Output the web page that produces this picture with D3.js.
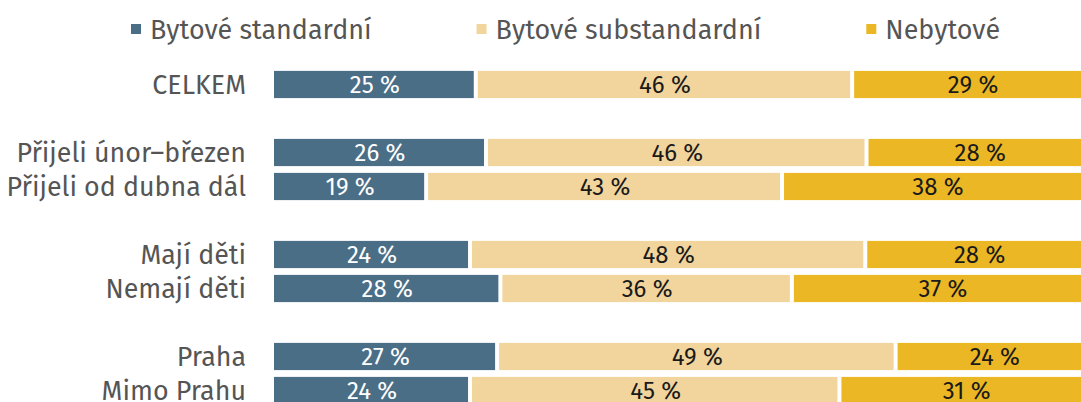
<!DOCTYPE html>
<html>
<head>
<meta charset="utf-8">
<script src="https://cdn.jsdelivr.net/npm/d3@7"></script>
<style>
  html, body { margin: 0; padding: 0; background: #fff; }
  svg { display: block; }
  text { font-family: "Fira Sans", "Open Sans", sans-serif; font-weight: 400; }
</style>
</head>
<body>
<svg id="chart" width="1081" height="402"></svg>
<script>
// ---- data ----
const categories = ["CELKEM", "Přijeli únor–březen", "Přijeli od dubna dál", "Mají děti", "Nemají děti", "Praha", "Mimo Prahu"];
const groupIndex = [0, 1, 1, 2, 2, 3, 3];
const seriesNames = ["Bytové standardní", "Bytové substandardní", "Nebytové"];
const standard = [24.85, 26.1, 18.8, 24.15, 27.85, 27.45, 24.15];
const substandard = [45.9, 46.4, 43.4, 48.2, 35.55, 48.6, 45.05];
const nonresidential = [29.25, 27.5, 37.8, 27.65, 36.6, 23.95, 30.8];
const colors = ["#4b6e87", "#f2d59d", "#ecb724"];
const labelColors = ["#ffffff", "#1a1a1a", "#1a1a1a"];

// ---- layout ----
const svg = d3.select("#chart");
const gap = 4;

const rows = categories.map((c, i) => ({
  name: c,
  slot: i + groupIndex[i],
  values: [standard[i], substandard[i], nonresidential[i]]
}));

const x = d3.scaleLinear().domain([0, 100]).range([272, 1092]);
const y = d3.scaleBand()
  .domain(d3.range(10))
  .range([67.5, 407.5])
  .paddingInner(0.2)
  .paddingOuter(0.1);

const stackData = rows.map(r => ({ name: r.name, slot: r.slot, s0: r.values[0], s1: r.values[1], s2: r.values[2] }));
const series = d3.stack().keys(["s0", "s1", "s2"])(stackData);

const g = svg.append("g");

series.forEach((s, si) => {
  const sg = g.append("g");
  sg.selectAll("rect").data(s).join("rect")
    .attr("x", d => x(d[0]) + gap / 2)
    .attr("y", d => y(d.data.slot))
    .attr("width", d => x(d[1]) - x(d[0]) - gap)
    .attr("height", y.bandwidth())
    .attr("fill", colors[si]);
  sg.selectAll("text").data(s).join("text")
    .attr("x", d => (x(d[0]) + x(d[1])) / 2 + 1)
    .attr("y", d => y(d.data.slot) + y.bandwidth() / 2 + 8.3)
    .attr("text-anchor", "middle")
    .attr("font-size", 24)
    .attr("fill", labelColors[si])
    .text(d => Math.round(d[1] - d[0]) + " %");
});

// category labels
g.selectAll("text.cat").data(rows).join("text")
  .attr("class", "cat")
  .attr("x", 246)
  .attr("y", d => y(d.slot) + y.bandwidth() / 2 + 9.2)
  .attr("text-anchor", "end")
  .attr("font-size", 26.8)
  .attr("fill", "#555555")
  .text(d => d.name);

// legend
const legend = svg.append("g");
let lx = 131;
seriesNames.forEach((name, i) => {
  legend.append("rect")
    .attr("x", lx).attr("y", 24).attr("width", 10).attr("height", 10)
    .attr("fill", colors[i]);
  const t = legend.append("text")
    .attr("x", lx + 19).attr("y", 38.5)
    .attr("font-size", 26.9)
    .attr("fill", "#555555")
    .text(name);
  lx = lx + 19 + t.node().getComputedTextLength() + 105;
});
</script>
</body>
</html>
